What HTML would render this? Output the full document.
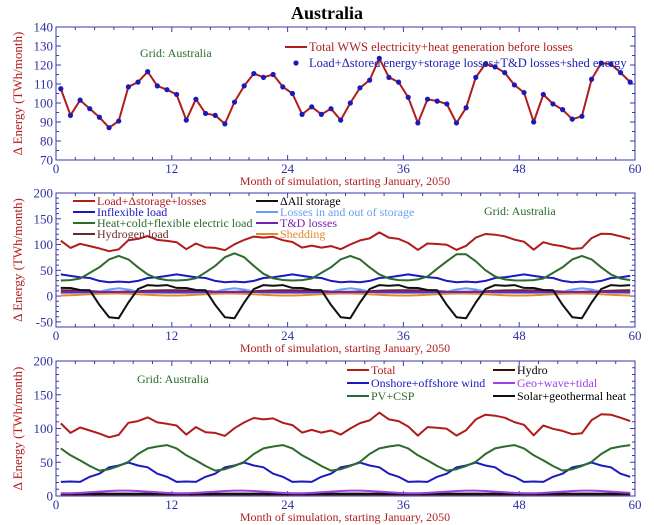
<!DOCTYPE html>
<html><head><meta charset="utf-8"><style>
body{margin:0;background:#fff;}
svg{display:block;font-family:"Liberation Serif",serif;}
</style></head><body>
<svg id="s" width="654" height="525" xmlns="http://www.w3.org/2000/svg"></svg>
<script>
const S=document.getElementById('s');
let h='';
const XL=56,XR=635;
const X=m=>XL+(XR-XL)*m/60;
const tot=[107.5,93.5,101.5,97,92.5,87,90.5,108.5,111,116.5,109,107,104.5,91,102,94.5,93.5,89,100.5,109,115.5,113.5,115,108.5,105,94,98,94,97,91,100,108,112,123.5,113.5,111,103,89.5,102,101,99.5,89.5,97.5,113.5,120.5,119,116,109.5,105.5,90,104.5,99.5,96.5,91.5,93,112.5,121,120.5,116,111];
const AX='#3a3aa8', TL='#3030a0', RT='#b02020';
function panel(top,bot,ymin,ymax,yticks,minor){
  const Y=v=>bot-(bot-top)*(v-ymin)/(ymax-ymin);
  h+=`<rect x="${XL}" y="${top}" width="${XR-XL}" height="${bot-top}" fill="none" stroke="${AX}" stroke-width="1"/>`;
  for(let m=0;m<=60;m+=2){const L=m%12==0?5:3;const x=X(m);
    h+=`<line x1="${x}" y1="${bot}" x2="${x}" y2="${bot-L}" stroke="${AX}"/><line x1="${x}" y1="${top}" x2="${x}" y2="${top+L}" stroke="${AX}"/>`;
    if(m%12==0)h+=`<text x="${x}" y="${bot+13}" font-size="13" fill="${TL}" text-anchor="middle">${m}</text>`;}
  for(let v=ymin;v<=ymax+1e-6;v+=minor){const y=Y(v);const maj=yticks.includes(v);const L=maj?5:3;
    h+=`<line x1="${XL}" y1="${y}" x2="${XL+L}" y2="${y}" stroke="${AX}"/><line x1="${XR}" y1="${y}" x2="${XR-L}" y2="${y}" stroke="${AX}"/>`;}
  yticks.forEach(v=>{h+=`<text x="${XL-3}" y="${Y(v)+4.5}" font-size="13" fill="${TL}" text-anchor="end">${v}</text>`;});
  h+=`<text x="345" y="${bot+25}" font-size="12" fill="${RT}" text-anchor="middle">Month of simulation, starting January, 2050</text>`;
  const cy=(top+bot)/2;
  h+=`<text transform="translate(22,${cy}) rotate(-90)" font-size="13" fill="${RT}" text-anchor="middle">Δ Energy (TWh/month)</text>`;
  return Y;
}
function line(Y,arr,col,w){h+=`<polyline fill="none" stroke="${col}" stroke-width="${w||2}" stroke-linejoin="round" points="${arr.map((v,i)=>X(i+0.5).toFixed(1)+','+Y(v).toFixed(1)).join(' ')}"/>`;}
function txt(x,y,t,c,fs){h+=`<text x="${x}" y="${y}" font-size="${fs}" fill="${c}">${t}</text>`;}
const M=[...Array(60).keys()].map(i=>i+0.5);
const cosm=(m,c)=>Math.cos(2*Math.PI*(m-c)/12);
const bump=(m,c,w)=>{let d=((m-c)%12+12)%12;if(d>6)d-=12;return Math.exp(-(d*d)/(2*w*w));};

h+=`<text x="327" y="19" font-size="18" font-weight="bold" text-anchor="middle" fill="#000">Australia</text>`;
// Panel 1
let Y1=panel(27,160,70,140,[70,80,90,100,110,120,130,140],5);
line(Y1,tot,'#b01c1c',2);
tot.forEach((v,i)=>{h+=`<circle cx="${X(i+0.5)}" cy="${Y1(v)}" r="2.6" fill="#1a1ab8"/>`;});
h+=`<text x="140" y="57" font-size="12" fill="#2a6a2a">Grid: Australia</text>`;
h+=`<line x1="285" y1="47" x2="307" y2="47" stroke="#b01c1c" stroke-width="2"/>`;txt(309,51,'Total WWS electricity+heat generation before losses','#b01c1c',12.5);
h+=`<circle cx="296" cy="63" r="2.6" fill="#1a1ab8"/>`;txt(309,67,'Load+Δstored energy+storage losses+T&amp;D losses+shed energy','#2020b0',12.5);

// Panel 2
let Y2=panel(193,327,-60,200,[-50,0,50,100,150,200],10);
const heat=M.map((m,i)=>30+((i/12|0)%2?53:48)*bump(m,6.5+(i>=36&&i<48?-0.5:0),1.8)+(i%12==3?3:0));
const infl=M.map(m=>33+7*cosm(m,0.5)+(m%3<1?2:0));
const stor=M.map((m,i)=>{let d=((m-6)%12+12)%12;if(d>6)d-=12;let b=Math.exp(-Math.pow(Math.abs(d)/1.7,3));let p=bump(m,10.5,1.8);return 12-56*b+9*p+(i%2?1.5:-1);});
const loss=M.map(m=>6+9*bump(m,6.5,1.3));
const td=M.map(m=>8);
const hyd=M.map(m=>10+1.5*cosm(m,0));
const shed=M.map(m=>3+2*cosm(m,6));
line(Y2,shed,'#e08a2a',2);
line(Y2,hyd,'#6a2a2a',2);
line(Y2,loss,'#6aa0f0',2);
line(Y2,td,'#7a1fb0',2);
line(Y2,stor,'#101010',2);
line(Y2,infl,'#1a1ac0',2);
line(Y2,heat,'#2d6a2d',2);
line(Y2,tot,'#b01c1c',2);
const L2=[['Load+Δstorage+losses','#b01c1c',73,201],['Inflexible load','#1a1ac0',73,212],['Heat+cold+flexible electric load','#2d6a2d',73,223],['Hydrogen load','#6a2a2a',73,234],
['ΔAll storage','#101010',256,201],['Losses in and out of storage','#6aa0f0',256,212],['T&amp;D losses','#7a1fb0',256,223],['Shedding','#e08a2a',256,234]];
L2.forEach(([t,c,x,y])=>{h+=`<line x1="${x}" y1="${y}" x2="${x+22}" y2="${y}" stroke="${c}" stroke-width="2"/>`;txt(x+24,y+4,t,c=='#101010'?'#000':c,12);});
h+=`<text x="484" y="215" font-size="12" fill="#2a6a2a">Grid: Australia</text>`;

// Panel 3
let Y3=panel(361,496,0,200,[0,50,100,150,200],10);
const pv=M.map((m,i)=>57.5+18.5*cosm(m,11)+(i%3==1?-2:0));
const wind=M.map((m,i)=>34+14*cosm(m,7.5)+(i%2?1.5:-1));
const geo=M.map(m=>6+2*cosm(m,7));
const hydro=M.map(m=>2);
const sol=M.map(m=>3.5);
line(Y3,hydro,'#3a0a0a',1.5);
line(Y3,sol,'#101010',2);
line(Y3,geo,'#a040e0',2);
line(Y3,wind,'#1a1ac0',2);
line(Y3,pv,'#2d6a2d',2);
line(Y3,tot,'#b01c1c',2);
const L3=[['Total','#b01c1c',347,370],['Onshore+offshore wind','#1a1ac0',347,383],['PV+CSP','#2d6a2d',347,396],
['Hydro','#3a0a0a',493,370],['Geo+wave+tidal','#a040e0',493,383],['Solar+geothermal heat','#101010',493,396]];
L3.forEach(([t,c,x,y])=>{h+=`<line x1="${x}" y1="${y}" x2="${x+22}" y2="${y}" stroke="${c}" stroke-width="2"/>`;txt(x+24,y+4,t,(c=='#101010'||c=='#3a0a0a')?'#000':c,12);});
h+=`<text x="137" y="383" font-size="12" fill="#2a6a2a">Grid: Australia</text>`;
S.innerHTML=h;
</script>
</body></html>
